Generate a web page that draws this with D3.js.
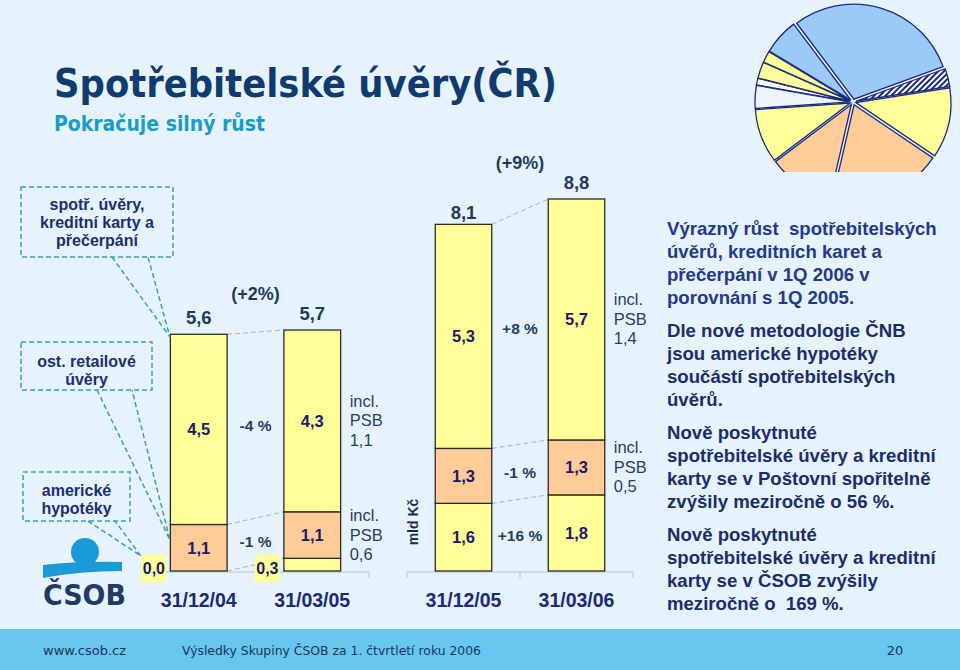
<!DOCTYPE html>
<html><head><meta charset="utf-8">
<script src="https://cdn.jsdelivr.net/npm/d3@7"></script>
<style>body{margin:0;background:#e6f3fc}svg{display:block}</style>
</head><body><svg id="c" width="960" height="670"></svg>
<script>
// ---------- DATA ----------
const categoriesA = ["31/12/04", "31/03/05"];
const categoriesB = ["31/12/05", "31/03/06"];
const categories = categoriesA.concat(categoriesB);
const americkeHypoteky = [0.0, 0.3, 1.6, 1.8];   // bottom segment
const ostRetailove = [1.1, 1.1, 1.3, 1.3];       // middle segment
const spotrUvery = [4.5, 4.3, 5.3, 5.7];         // top segment
const totals = [5.6, 5.7, 8.1, 8.8];
const growthLabels = ["(+2%)", "(+9%)"];
const changeA = [null, "-1 %", "-4 %"];
const changeB = ["+16 %", "-1 %", "+8 %"];
const psbTop = ["1,1", "1,4"];
const psbMid = ["0,6", "0,5"];
const callouts = [["spotř. úvěry,", "kreditní karty a", "přečerpání"], ["ost. retailové", "úvěry"], ["americké", "hypotéky"]];
const paragraphs = [
  ["Výrazný růst  spotřebitelských", "úvěrů, kreditních karet a", "přečerpání v 1Q 2006 v", "porovnání s 1Q 2005."],
  ["Dle nové metodologie ČNB", "jsou americké hypotéky", "součástí spotřebitelských", "úvěrů."],
  ["Nově poskytnuté", "spotřebitelské úvěry a kreditní", "karty se v Poštovní spořitelně", "zvýšily meziročně o 56 %."],
  ["Nově poskytnuté", "spotřebitelské úvěry a kreditní", "karty se v ČSOB zvýšily", "meziročně o  169 %."]
];
const pieValues = [107, 11, 43, 69, 40, 33, 14, 4, 10, 7, 22];
const pieColors = ["#9ccaf8", "url(#hatch)", "#ffff99", "#ffcc99", "#ffcc99", "#ffff99", "#eef6fd", "#ffffff", "#ffff99", "#ffff99", "#9ccaf8"];

// ---------- DRAW ----------
const svg = d3.select("#c");
const defs = svg.append("defs");
const pat = defs.append("pattern").attr("id", "hatch").attr("patternUnits", "userSpaceOnUse")
  .attr("width", 4).attr("height", 4).attr("patternTransform", "rotate(45)");
pat.append("rect").attr("width", 4).attr("height", 4).attr("fill", "#fff");
pat.append("rect").attr("width", 2).attr("height", 4).attr("fill", "#1b2a80");
defs.append("clipPath").attr("id", "pieclip").append("rect").attr("x", 700).attr("y", 0).attr("width", 260).attr("height", 172);

svg.append("rect").attr("width", 960).attr("height", 670).attr("fill", "#e6f3fc");

// pie decoration
const pieG = svg.append("g").attr("clip-path", "url(#pieclip)").append("g").attr("transform", "translate(853,102)");
const pie = d3.pie().sort(null).value(d => d).startAngle(-37 * Math.PI / 180).endAngle(323 * Math.PI / 180);
const arc = d3.arc().innerRadius(0).outerRadius(95);
pieG.selectAll("path").data(pie(pieValues)).join("path")
  .attr("d", arc)
  .attr("transform", d => { const m = (d.startAngle + d.endAngle) / 2; return `translate(${Math.sin(m) * 3},${-Math.cos(m) * 3})`; })
  .attr("fill", (d, i) => pieColors[i])
  .attr("stroke", "#1b2a80").attr("stroke-width", 1.3);

// title
const titleFont = "'DejaVu Sans Condensed','DejaVu Sans',Verdana,sans-serif";
svg.append("text").attr("x", 54).attr("y", 97).text("Spotřebitelské úvěry(ČR)")
  .attr("font-family", titleFont).attr("font-weight", "bold").attr("font-size", 39)
  .attr("fill", "#0f3b6e").attr("textLength", 503).attr("lengthAdjust", "spacingAndGlyphs");
svg.append("text").attr("x", 54).attr("y", 131).text("Pokračuje silný růst")
  .attr("font-family", titleFont).attr("font-weight", "bold").attr("font-size", 21)
  .attr("fill", "#1b9cc8").attr("textLength", 211).attr("lengthAdjust", "spacingAndGlyphs");

// scales
const y = d3.scaleLinear().domain([0, 8.8]).range([571, 199]);
const xA = d3.scaleBand().domain(categoriesA).range([142, 369]).paddingInner(0.5).paddingOuter(0.25);
const xB = d3.scaleBand().domain(categoriesB).range([407, 633]).paddingInner(0.5).paddingOuter(0.25);
const xOf = c => (categoriesA.includes(c) ? xA : xB);

const rows = categories.map((c, i) => ({ cat: c, hyp: americkeHypoteky[i], ost: ostRetailove[i], spo: spotrUvery[i] }));
const keys = ["hyp", "ost", "spo"];
const fills = { hyp: "#ffff99", ost: "#ffcc99", spo: "#ffff99" };
const stack = d3.stack().keys(keys)(rows);
const fmt = v => d3.format(".1f")(v).replace(".", ",");
const chartFont = "'Liberation Sans',Arial,sans-serif";

// axes (baseline + ticks at category boundaries)
[xA, xB].forEach(sc => {
  const r = sc.range(), st = sc.step();
  const g = svg.append("g").attr("stroke", "#b9c5cf").attr("stroke-width", 1);
  g.append("line").attr("x1", r[0]).attr("x2", r[1]).attr("y1", y(0) + 1).attr("y2", y(0) + 1);
  [r[0], r[0] + st, r[1]].forEach(t => g.append("line").attr("x1", t).attr("x2", t).attr("y1", y(0) + 1).attr("y2", y(0) + 7));
});

// connectors between bars of each group
[categoriesA, categoriesB].forEach(grp => {
  const sc = xOf(grp[0]);
  const i0 = categories.indexOf(grp[0]), i1 = categories.indexOf(grp[1]);
  stack.forEach(layer => {
    svg.append("line")
      .attr("x1", sc(grp[0]) + sc.bandwidth()).attr("y1", y(layer[i0][1]))
      .attr("x2", sc(grp[1])).attr("y2", y(layer[i1][1]))
      .attr("stroke", "#a9b3bd").attr("stroke-width", 1).attr("stroke-dasharray", "5,3");
  });
});

// bars
stack.forEach(layer => {
  svg.append("g").selectAll("rect").data(layer).join("rect")
    .attr("x", d => xOf(d.data.cat)(d.data.cat))
    .attr("width", d => xOf(d.data.cat).bandwidth())
    .attr("y", d => y(d[1]))
    .attr("height", d => y(d[0]) - y(d[1]))
    .attr("fill", fills[layer.key]).attr("stroke", "#2a2a2a").attr("stroke-width", 1.3);
});

// segment labels
stack.forEach(layer => {
  layer.forEach(d => {
    const sc = xOf(d.data.cat);
    const x0 = sc(d.data.cat), cx = x0 + sc.bandwidth() / 2;
    const h = y(d[0]) - y(d[1]);
    const v = d.data[layer.key];
    if (h >= 20) {
      svg.append("text").attr("x", cx).attr("y", (y(d[0]) + y(d[1])) / 2 + 6)
        .attr("text-anchor", "middle").attr("font-family", chartFont).attr("font-weight", "bold")
        .attr("font-size", 16.5).attr("fill", "#1a1a66").text(fmt(v));
    } else {
      const bx = x0 - 4 - 25, by = y(0) - 16;
      svg.append("rect").attr("x", bx).attr("y", by).attr("width", 25).attr("height", 27).attr("fill", "#ffff99");
      svg.append("text").attr("x", bx + 12.5).attr("y", by + 19)
        .attr("text-anchor", "middle").attr("font-family", chartFont).attr("font-weight", "bold")
        .attr("font-size", 16).attr("fill", "#1a1a66").text(fmt(v));
    }
  });
});

// totals
categories.forEach((c, i) => {
  const sc = xOf(c);
  svg.append("text").attr("x", sc(c) + sc.bandwidth() / 2).attr("y", y(totals[i]) - 10)
    .attr("text-anchor", "middle").attr("font-family", chartFont).attr("font-weight", "bold")
    .attr("font-size", 18.5).attr("fill", "#1f3a5f").text(fmt(totals[i]));
});

// category labels
categories.forEach(c => {
  const sc = xOf(c);
  svg.append("text").attr("x", sc(c) + sc.bandwidth() / 2).attr("y", 607)
    .attr("text-anchor", "middle").attr("font-family", chartFont).attr("font-weight", "bold")
    .attr("font-size", 19.5).attr("fill", "#1c2a7a").text(c);
});

// growth + change labels, PSB notes
[[categoriesA, changeA, 0], [categoriesB, changeB, 1]].forEach(([grp, ch, gi]) => {
  const sc = xOf(grp[0]);
  const i0 = categories.indexOf(grp[0]), i1 = categories.indexOf(grp[1]);
  const midX = (sc(grp[0]) + sc.bandwidth() + sc(grp[1])) / 2;
  svg.append("text").attr("x", midX).attr("y", y(d3.max([totals[i0], totals[i1]])) - 30)
    .attr("text-anchor", "middle").attr("font-family", chartFont).attr("font-weight", "bold")
    .attr("font-size", 18).attr("fill", "#1f3a5f").text(growthLabels[gi]);
  stack.forEach((layer, li) => {
    if (!ch[li]) return;
    const m = (y((layer[i0][0] + layer[i0][1]) / 2) + y((layer[i1][0] + layer[i1][1]) / 2)) / 2;
    svg.append("text").attr("x", midX).attr("y", m + 6)
      .attr("text-anchor", "middle").attr("font-family", chartFont).attr("font-weight", "bold")
      .attr("font-size", 15.5).attr("fill", "#243e63").text(ch[li]);
  });
  const nx = sc(grp[1]) + sc.bandwidth() + 9;
  [[2, psbTop[gi]], [1, psbMid[gi]]].forEach(([li, val]) => {
    const d = stack[li][i1];
    const m = (y(d[0]) + y(d[1])) / 2;
    const t = svg.append("text").attr("font-family", chartFont).attr("font-size", 16.5).attr("fill", "#2a3f5f");
    ["incl.", "PSB", val].forEach((s, k) => t.append("tspan").attr("x", nx).attr("y", m - 14 + k * 19.5).text(s));
  });
});

// unit label
svg.append("text").attr("transform", "translate(418,522) rotate(-90)").attr("text-anchor", "middle")
  .attr("font-family", chartFont).attr("font-weight", "bold").attr("font-size", 14).attr("fill", "#1c2a5a").text("mld Kč");

// callouts
const calloutBoxes = [
  { x: 21, y: 187, w: 152, h: 70, base: 210, ptr: [[112, 257], [170, 337], [148, 257]] },
  { x: 21, y: 342, w: 131, h: 48, base: 367, ptr: [[97, 390], [170, 540], [132, 390]] },
  { x: 23, y: 472, w: 107, h: 49, base: 496, ptr: [[88, 521], [141, 556], [115, 521]] }
];
callouts.forEach((lines, i) => {
  const b = calloutBoxes[i];
  svg.append("rect").attr("x", b.x).attr("y", b.y).attr("width", b.w).attr("height", b.h)
    .attr("fill", "none").attr("stroke", "#3aa0ad").attr("stroke-width", 1.5).attr("stroke-dasharray", "5,3");
  svg.append("path").attr("d", d3.line()(b.ptr)).attr("fill", "none")
    .attr("stroke", "#3aa0ad").attr("stroke-width", 1.5).attr("stroke-dasharray", "5,3");
  const t = svg.append("text").attr("text-anchor", "middle").attr("font-family", chartFont)
    .attr("font-weight", "bold").attr("font-size", 16).attr("fill", "#1c2f72");
  lines.forEach((s, k) => t.append("tspan").attr("x", b.x + b.w / 2).attr("y", b.base + k * 18).text(s));
});

// logo
svg.append("circle").attr("cx", 85).attr("cy", 552).attr("r", 14).attr("fill", "#1a9ad7");
svg.append("path").attr("d", "M43,565 Q80,561 122,562 L122,571 Q80,571 43,578 Z").attr("fill", "#1a9ad7");
svg.append("text").attr("x", 43).attr("y", 605).text("ČSOB").attr("font-family", "'DejaVu Sans',Verdana,sans-serif")
  .attr("font-weight", "bold").attr("font-size", 29).attr("fill", "#233a66")
  .attr("textLength", 83).attr("lengthAdjust", "spacingAndGlyphs");

// right text
const paraStart = [235, 337, 439, 541];
paragraphs.forEach((lines, p) => {
  const t = svg.append("text").attr("font-family", chartFont).attr("font-weight", "bold")
    .attr("font-size", 18.6).attr("fill", p === 0 ? "#24398a" : "#1b2d6b");
  lines.forEach((s, k) => t.append("tspan").attr("x", 667).attr("y", paraStart[p] + k * 23).attr("xml:space", "preserve").text(s));
});

// footer
svg.append("rect").attr("x", 0).attr("y", 629).attr("width", 960).attr("height", 41).attr("fill", "#67c7ef");
const ff = "'DejaVu Sans',Verdana,sans-serif";
svg.append("text").attr("x", 43).attr("y", 655).attr("font-family", ff).attr("font-size", 13).attr("fill", "#1d3557").text("www.csob.cz");
svg.append("text").attr("x", 182).attr("y", 655).attr("font-family", ff).attr("font-size", 13).attr("fill", "#1d3557")
  .attr("textLength", 299).attr("lengthAdjust", "spacingAndGlyphs").text("Výsledky Skupiny ČSOB za 1. čtvrtletí roku 2006");
svg.append("text").attr("x", 895).attr("y", 655).attr("text-anchor", "middle").attr("font-family", ff).attr("font-size", 13).attr("fill", "#1d3557").text("20");
</script></body></html>
